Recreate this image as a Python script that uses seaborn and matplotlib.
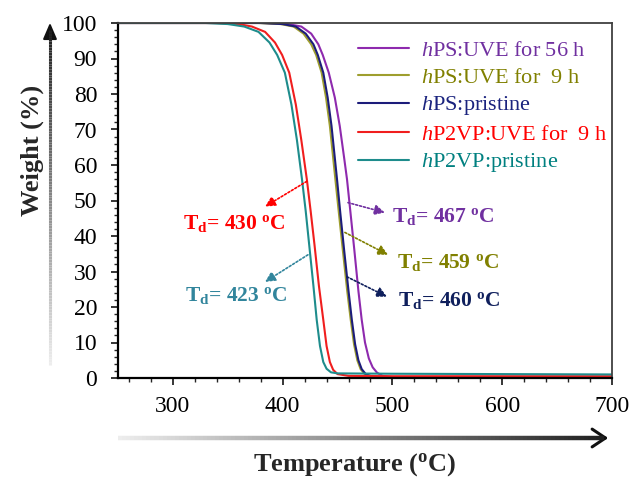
import numpy as np
import pandas as pd
import matplotlib
matplotlib.use("Agg")
import matplotlib.pyplot as plt
import seaborn as sns
from matplotlib.collections import LineCollection
from matplotlib.patches import FancyArrowPatch
from matplotlib.ticker import MultipleLocator

# ---------------- data ----------------
series_labels = [
    r"$\mathit{h}$PS:UVE for 56 h",
    r"$\mathit{h}$PS:UVE for  9 h",
    r"$\mathit{h}$PS:pristine",
    r"$\mathit{h}$P2VP:UVE for  9 h",
    r"$\mathit{h}$P2VP:pristine",
]

temp_ps_56h = [250, 385, 405, 417, 426, 432.5, 436.5, 442, 447.5, 452, 456, 458.6, 461.8,
               465.3, 469, 472, 475, 478.5, 482, 486, 491, 500, 700]
wt_ps_56h = [100, 100, 99.7, 99, 97, 94, 91, 86, 79, 71, 62, 56, 46.5, 36, 24.5, 16.4,
             10, 5.5, 3, 1.5, 0.6, 0.3, 0.3]

temp_ps_9h = [250, 378, 398, 410, 419, 426, 430.5, 435.5, 439.5, 443, 446, 448, 451.2,
              454.8, 458.8, 462, 465, 468, 471, 475, 481, 500, 700]
wt_ps_9h = [100, 100, 99.7, 99, 97, 94, 91, 86, 79, 71, 62, 56, 46.5, 36, 24.5, 16.4,
            9.5, 5, 2.5, 1, 0.4, 0.2, 0.2]

temp_ps_pristine = [250, 380, 400, 412, 421, 428, 432, 437, 441, 444.5, 447.5, 449.5,
                    452.5, 456, 460, 463, 466, 469, 472, 476, 482, 500, 700]
wt_ps_pristine = [100, 100, 99.7, 99, 97, 94, 91, 86, 79, 71, 62, 56, 46.5, 36, 24.5,
                  16.4, 9.5, 5, 2.5, 1, 0.4, 0.2, 0.2]

temp_p2vp_9h = [250, 340, 360, 372, 384, 393, 399.5, 406, 412, 417, 422, 425.5, 429, 433,
                437, 440, 443, 446, 450, 460, 500, 600, 700]
wt_p2vp_9h = [100, 100, 99.7, 99, 97.5, 94.5, 91, 86, 77, 67, 56, 47, 37.5, 26, 16.4, 9,
              4.5, 2.3, 1.1, 0.6, 0.5, 0.5, 0.5]

temp_p2vp_pristine = [250, 330, 350, 365, 378, 388, 395, 402, 408, 413, 417.6, 421, 424,
                      428, 431, 434, 437, 440, 444, 450, 500, 600, 700]
wt_p2vp_pristine = [100, 100, 99.7, 99, 97.5, 94.5, 91, 86, 77, 67, 56, 47, 38, 26, 16.4,
                    9, 4.5, 2.6, 1.6, 1.3, 1.2, 1.1, 1.0]

td_values = [467, 459, 460, 430, 423]

x_ticks = [300, 400, 500, 600, 700]
y_ticks = [0, 10, 20, 30, 40, 50, 60, 70, 80, 90, 100]

# ---------------- styles ----------------
line_colors = ["#8E2AAE", "#9E9E2E", "#1C1C7A", "#F01E1E", "#1E8C8C"]
text_colors = ["#7030A0", "#808000", "#1A237E", "#FF0000", "#008080"]
td_colors = ["#7030A0", "#808000", "#0F1F5C", "#FF0000", "#31859C"]

sns.set_style("ticks")
plt.rcParams["font.family"] = ["Liberation Serif", "DejaVu Serif"]
plt.rcParams["mathtext.fontset"] = "custom"
plt.rcParams["mathtext.rm"] = "Liberation Serif"
plt.rcParams["mathtext.it"] = "Liberation Serif:italic"
plt.rcParams["mathtext.bf"] = "Liberation Serif:bold"

temps = [temp_ps_56h, temp_ps_9h, temp_ps_pristine, temp_p2vp_9h, temp_p2vp_pristine]
wts = [wt_ps_56h, wt_ps_9h, wt_ps_pristine, wt_p2vp_9h, wt_p2vp_pristine]
frames = []
for lab, t, w in zip(series_labels, temps, wts):
    frames.append(pd.DataFrame({"Temperature": t, "Weight": w, "Sample": lab}))
df = pd.concat(frames, ignore_index=True)

fig = plt.figure(figsize=(6.32, 4.8), dpi=100)
W, H = 632, 480
ax = fig.add_axes([118 / W, 102 / H, 494 / W, 355 / H])

sns.lineplot(data=df, x="Temperature", y="Weight", hue="Sample",
             hue_order=series_labels, palette=line_colors, sort=False,
             estimator=None, linewidth=1.5, ax=ax)

ax.set_xlim(250, 700)
ax.set_ylim(0, 100)
ax.set_xticks(x_ticks)
ax.set_yticks(y_ticks)
ax.xaxis.set_minor_locator(MultipleLocator(20))
ax.yaxis.set_minor_locator(MultipleLocator(2))
ax.tick_params(axis="both", which="major", direction="out", length=5, width=1.1,
               labelsize=17, colors="black", top=False, right=False)
ax.tick_params(axis="both", which="minor", direction="out", length=3, width=1.0,
               top=False, right=False)
ax.tick_params(axis="x", which="major", pad=8)
ax.tick_params(axis="y", which="major", pad=10)
ax.set_xlabel("")
ax.set_ylabel("")
for side in ["left", "bottom"]:
    ax.spines[side].set_color("black")
    ax.spines[side].set_linewidth(1.6)
for side in ["top", "right"]:
    ax.spines[side].set_visible(True)
    ax.spines[side].set_color("#404040")
    ax.spines[side].set_linewidth(1.3)

# legend
handles, labels = ax.get_legend_handles_labels()
if ax.get_legend() is not None:
    ax.get_legend().remove()
leg = ax.legend(handles, labels, loc="upper left",
                bbox_to_anchor=(358 / W, 1 - 40 / H), bbox_transform=fig.transFigure,
                frameon=False, fontsize=16, handlelength=2.3, handletextpad=0.55,
                labelspacing=0.3, borderpad=0, borderaxespad=0)
for txt, c in zip(leg.get_texts(), text_colors):
    txt.set_color(c)
for ln in leg.get_lines():
    ln.set_linewidth(1.5)

# Td annotations: (arrow start on curve, arrow head, text position, alignment)
annots = [
    ((459.5, 49.4), (493, 46.6), (499.5, 45.6), "left"),
    ((456.7, 41.0), (496, 34.7), (504, 32.6), "left"),
    ((458.6, 28.5), (495, 22.9), (505, 21.8), "left"),
    ((422.0, 55.4), (384, 48.3), (355.6, 43.6), "center"),
    ((423.0, 34.7), (384, 27.1), (357.5, 23.2), "center"),
]
for (start, head, tpos, ha), val, c in zip(annots, td_values, td_colors):
    ax.annotate("", xy=head, xytext=start,
                arrowprops=dict(arrowstyle="-|>,head_length=0.55,head_width=0.28",
                                linestyle=(0, (1.2, 1.2)), color=c, lw=1.2,
                                shrinkA=0, shrinkB=0, mutation_scale=11))
    ax.text(tpos[0], tpos[1], r"T$_\mathbf{d}$= %d $^\mathbf{o}$C" % val,
            color=c, fontsize=15.5, fontweight="bold", ha=ha, va="center")

# axis labels
fig.text(32 / W, 1 - 150 / H, "Weight (%)", rotation=90, ha="center", va="center",
         fontsize=19, fontweight="bold")
fig.text(355 / W, 1 - 465 / H, r"Temperature ($^\mathbf{o}$C)", ha="center", va="center",
         fontsize=19, fontweight="bold")


def grad_line(x0, y0, x1, y1, lw, n=120, c0=0.93, c1=0.12):
    t = np.linspace(0, 1, n + 1)
    xs = x0 + (x1 - x0) * t
    ys = y0 + (y1 - y0) * t
    segs = [[(xs[i], ys[i]), (xs[i + 1], ys[i + 1])] for i in range(n)]
    cols = [str(c0 + (c1 - c0) * ti) for ti in t[:-1]]
    lc = LineCollection(segs, colors=cols, linewidths=lw, transform=fig.transFigure,
                        capstyle="butt")
    fig.add_artist(lc)


# vertical gradient arrow
grad_line(50 / W, 1 - 365 / H, 50 / W, 1 - 30 / H, 2.2)
fig.add_artist(FancyArrowPatch((50 / W, 1 - 34 / H), (50 / W, 1 - 20 / H),
                               transform=fig.transFigure,
                               arrowstyle="-|>,head_length=0.7,head_width=0.3",
                               mutation_scale=14, color="#111111", lw=1.5))
# horizontal gradient arrow
grad_line(118 / W, 1 - 438 / H, 604 / W, 1 - 438 / H, 3.2)
fig.add_artist(FancyArrowPatch((596 / W, 1 - 438 / H), (611 / W, 1 - 438 / H),
                               transform=fig.transFigure,
                               arrowstyle="->,head_length=0.6,head_width=0.4",
                               mutation_scale=16, color="#111111", lw=2.2))

fig.savefig("out.png", dpi=100)
